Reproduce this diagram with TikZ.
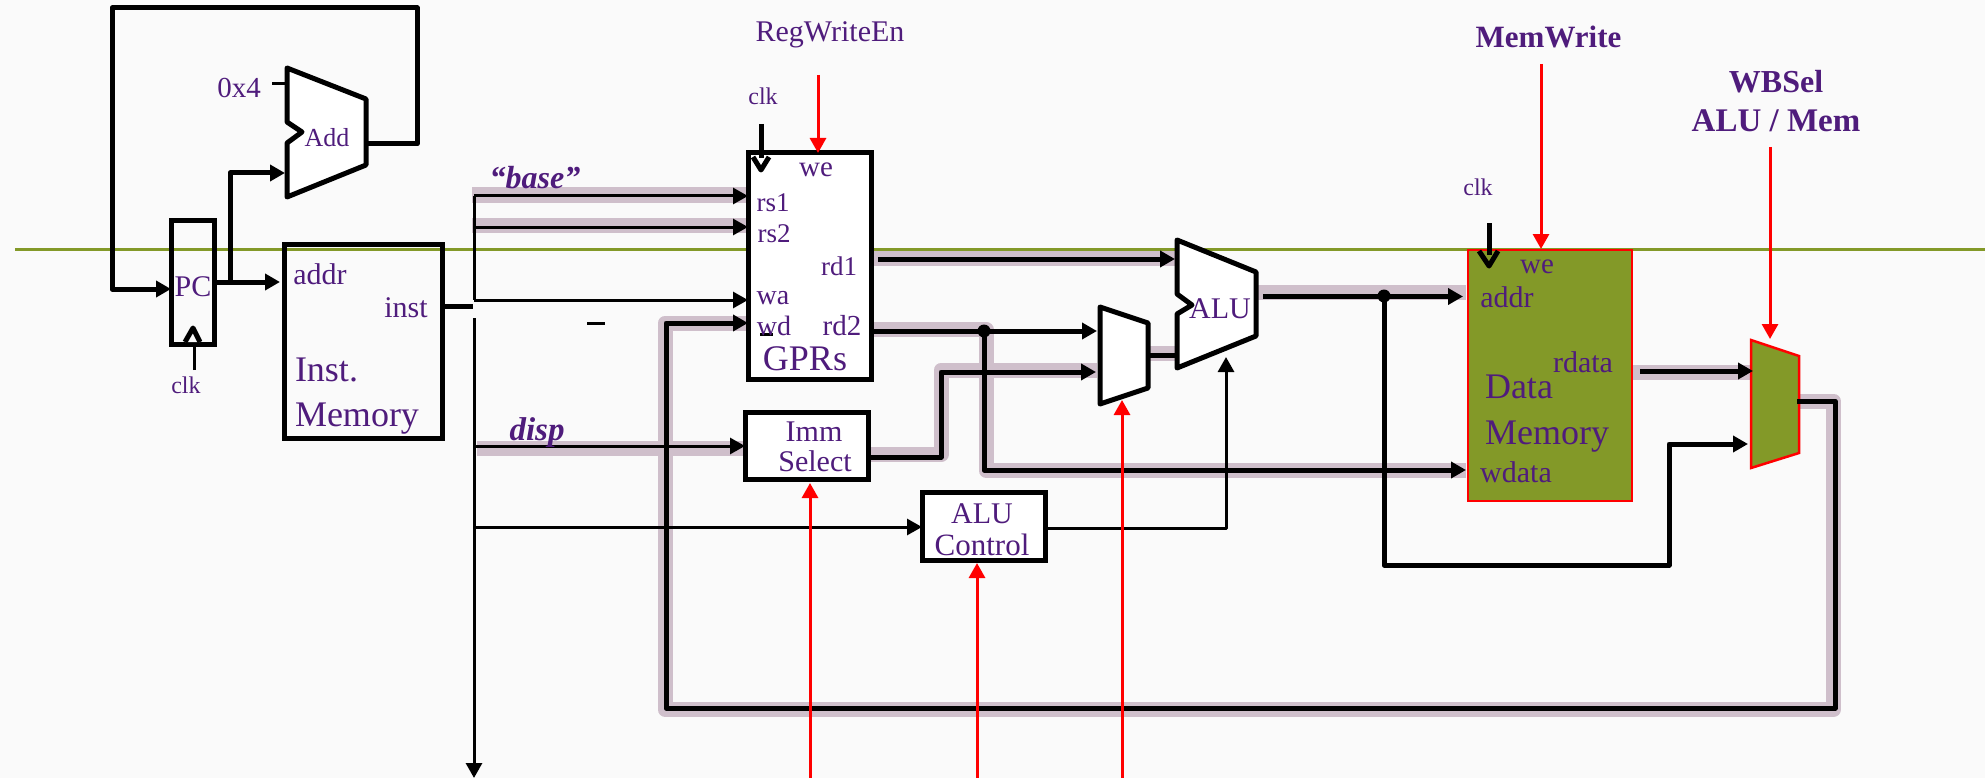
\documentclass[tikz,border=0pt]{standalone}
\usepackage{fontspec}
\setmainfont{Liberation Serif}
\usetikzlibrary{arrows.meta,calc}
\definecolor{inkp}{HTML}{4F1C7C}
\definecolor{olivef}{HTML}{839928}
\definecolor{bandc}{HTML}{CFBFCB}
\definecolor{paper}{HTML}{FAFAFA}
\tikzset{
  x=1pt,y=-1pt,
  lbl/.style={text=inkp,inner sep=0pt,outer sep=0pt,anchor=center,align=center},
  fs/.style={font=\fontsize{#1}{#1}\selectfont},
  fb/.style={font=\fontsize{#1}{#1}\selectfont\bfseries},
  fi/.style={font=\fontsize{#1}{#1}\selectfont\bfseries\itshape},
  boxw/.style={draw=black,line width=5pt,fill=white,outer sep=0pt,inner sep=0pt,rectangle},
  boxo/.style={draw=black,line width=5pt,outer sep=0pt,inner sep=0pt,rectangle},
  band/.style={draw=bandc,line width=15pt,line join=round},
  thickw/.style={draw=black,line width=5pt,line join=round},
  thinw/.style={draw=black,line width=3pt,line join=round},
  redw/.style={draw=red,line width=3pt},
  tipk/.style={-{Triangle[length=15pt,width=16pt]}},
  tipr/.style={-{Triangle[length=15pt,width=16pt,color=red]}},
  unitshape/.style={draw=black,line width=5pt,fill=white,line join=round},
  olive/.style={draw=red,line width=2.5pt,fill=olivef},
}
\begin{document}
\begin{tikzpicture}
\useasboundingbox (0,0) rectangle (1985,778);
\fill[paper] (0,0) rectangle (1985,778);
% rail
\coordinate (railL) at (15,249.5);
\coordinate (railR) at (1985,249.5);
\draw[olivef,line width=3pt] (railL) -- (railR);

% ports and junctions
\coordinate (busTop) at (474,196);
\coordinate (busBase2) at (474,227);
\coordinate (busWa) at (474,300);
\coordinate (busLow) at (474,318);
\coordinate (busDisp) at (474,446);
\coordinate (busCtl) at (474,527);
\coordinate (busEnd) at (474,778);
\coordinate (dotRd2) at (984,331);
\coordinate (dotAlu) at (1384,296);
\coordinate (fbTop) at (1835,401);
\coordinate (fbBR) at (1835,708);
\coordinate (fbBL) at (666,708);
\coordinate (fbWd) at (666,323);
% shapes' coordinates
\coordinate (addOut) at (366,144);
\coordinate (addIn) at (285,173);
\coordinate (aluA) at (1175,259);
\coordinate (aluB) at (1177,355);
\coordinate (aluS) at (1226,357);
\coordinate (aluOut) at (1263,296.5);
\coordinate (m1A) at (1097,331);
\coordinate (m1B) at (1096,372);
\coordinate (m1Out) at (1148,355);
\coordinate (m1S) at (1122,400);
\coordinate (m2A) at (1753,371);
\coordinate (m2B) at (1748,444);
\coordinate (m2Out) at (1797,401);
\coordinate (m2S) at (1770,339);

% bands
\draw[band] (472,195) -- (746,195);
\draw[band] (472,225.5) -- (746,225.5);
\draw[band] (477,448) -- (743,448);
\draw[band] (873,258.5) -- (1175,258.5);
\draw[band] (1258,292.5) -- (1466,292.5);
\draw[band] (873,329.5) -- (986,329.5) -- (986,470.5) -- (1466,470.5);
\draw[band] (870,454.5) -- (941,454.5) -- (941,370) -- (1097,370);
\draw[band] (1148,353.5) -- (1177,353.5);
\draw[band] (1632,372.5) -- (1753,372.5);
\draw[band] (1797,401) -- (1833.5,401) -- (1833.5,709.5) -- (665,709.5) -- (665,323) -- (746,323);

% boxes
\node[boxo,minimum width=43pt,minimum height=124pt] (pc) at (192.5,282) {};
\node[boxo,minimum width=158pt,minimum height=194pt] (imem) at (363,341) {};
\node[boxw,minimum width=123pt,minimum height=226pt] (gpr) at (809.5,266) {};
\node[boxw,minimum width=123pt,minimum height=67pt] (imm) at (806.5,445.5) {};
\node[boxw,minimum width=123pt,minimum height=68pt] (aluc) at (983.5,526) {};
\node[draw=red,line width=2.5pt,fill=olivef,rectangle,outer sep=0pt,inner sep=0pt,minimum width=164pt,minimum height=251pt] (dmem) at (1550,375.5) {};

% trapezoids
\draw[unitshape] (287,68) -- (366,99) -- (366,165) -- (287,197) -- (287,143) -- (302,132) -- (287,122) -- cycle;
\draw[unitshape] (1177,240) -- (1256,272) -- (1256,336) -- (1177,368) -- (1177,314) -- (1192,305) -- (1177,294) -- cycle;
\draw[unitshape] (1100,307) -- (1148,323) -- (1148,388) -- (1100,404) -- cycle;
\draw[olive] (1751,340) -- (1799,356) -- (1799,453) -- (1751,468) -- cycle;

% PC / fetch wires
\coordinate (pcClkEnd) at (194,370);
\draw[thickw,tipk] (addOut) -- (417,144) -- (417,8) -- (112,8) -- (112,289) -- (pc.west |- 0,289);
\draw[thickw,tipk] (pc.east |- 0,282) -- (280,282);
\draw[thickw,tipk] (230,282) -- (230,173) -- (addIn);
\draw[thinw] (272,84) -- (287,84);
\draw[thinw] (pcClkEnd) -- (194,335);
\draw[draw=black,line width=5pt,fill=paper,line join=round] (185,342) -- (193,328) -- (200,342);
% instruction bus
\draw[thickw] (imem.east |- 0,306.5) -- (473,306.5);
\draw[thinw] (busTop) -- (busWa);
\draw[thinw,tipk] (busLow) -- (busEnd);
\draw[thinw,tipk] (busTop) -- (busTop -| gpr.west);
\draw[thinw,tipk] (busBase2) -- (busBase2 -| gpr.west);
\draw[thinw,tipk] (busWa) -- (busWa -| gpr.west);
\draw[thinw,tipk] (busDisp) -- (busDisp -| imm.west);
\draw[thinw,tipk] (busCtl) -- (busCtl -| aluc.west);
% feedback
\draw[thickw,tipk] (m2Out) -- (fbTop) -- (fbBR) -- (fbBL) -- (fbWd) -- (fbWd -| gpr.west);
% register file outputs
\draw[thickw,tipk] (878,259) -- (aluA);
\draw[thickw] (gpr.east |- dotRd2) -- (dotRd2);
\draw[thickw,tipk] (dotRd2) -- (m1A);
\draw[thickw,tipk] (dotRd2) -- (984,470) -- (1466,470);
\fill[black] (dotRd2) circle (6.5);
\draw[thickw,tipk] (imm.east |- 0,457) -- (941,457) -- (941,372) -- (m1B);
\draw[thickw] (m1Out) -- (aluB);
\draw[thinw,tipk] (aluc.east |- 0,528) -- (1226,528) -- (aluS);
\draw[thickw,tipk] (aluOut) -- (1463,296.5);
\draw[thickw,tipk] (dotAlu) -- (1384,565) -- (1669,565) -- (1669,444) -- (m2B);
\fill[black] (dotAlu) circle (6.5);
\draw[thickw,tipk] (1640,371) -- (m2A);
% clocks
\draw[line width=5pt] (761,124) -- (761,158);
\draw[line width=5pt,line join=round] (753,157) -- (761,170) -- (769,157);
\draw[line width=5pt] (1489,223) -- (1489,255);
\draw[line width=5pt,line join=round] (1479,251) -- (1489,266) -- (1498,251);
% stray marks
\draw[thinw] (587,323) -- (605,323);
\draw[thinw] (760,334) -- (773,334);
% control
\coordinate (cRegW) at (818,75);
\coordinate (cMemW) at (1541,64);
\coordinate (cWB) at (1770,147);
\coordinate (cImm) at (810,778);
\coordinate (cAlu) at (977,778);
\coordinate (cMux) at (1122,778);
\draw[redw,tipr] (cRegW) -- (818,153);
\draw[redw,tipr] (cMemW) -- (1541,249);
\draw[redw,tipr] (cWB) -- (m2S);
\draw[redw,tipr] (cImm) -- (810,483);
\draw[redw,tipr] (cAlu) -- (977,563);
\draw[redw,tipr] (cMux) -- (m1S);

% labels
\node[lbl,fs=29] (t0x4) at (239,88) {0x4};
\node[lbl,fs=26] (tadd) at (327,138) {Add};
\node[lbl,fs=30] (tpc) at (193,287) {PC};
\node[lbl,fs=24] (tclka) at (186,385) {clk};
\node[lbl,fs=30] (taddr) at (320,274) {addr};
\node[lbl,fs=30] (tinst) at (406,308) {inst};
\node[lbl,fs=36,anchor=west] (tinst2) at (295,370) {Inst.};
\node[lbl,fs=36,anchor=west] (tmem) at (295,419) {Memory};
\node[lbl,fs=30] (tregw) at (830,35) {RegWriteEn};
\node[lbl,fs=24] (tclkb) at (763,96) {clk};
\node[lbl,fs=29] (twe) at (816,170) {we};
\node[lbl,fs=27] (trs1) at (773,203) {rs1};
\node[lbl,fs=27] (trs2) at (774,234) {rs2};
\node[lbl,fs=27] (trd1) at (839,266) {rd1};
\node[lbl,fs=28] (twa) at (773,298) {wa};
\node[lbl,fs=28] (twd) at (774,326) {wd};
\node[lbl,fs=29] (trd2) at (842,326) {rd2};
\node[lbl,fs=36] (tgprs) at (805,359) {GPRs};
\node[lbl,fi=32] (tbase) at (535,178) {“base”};
\node[lbl,fi=33] (tdisp) at (537,433) {disp};
\node[lbl,fs=30] (timm1) at (814,432) {Imm};
\node[lbl,fs=30] (timm2) at (815,461) {Select};
\node[lbl,fs=30] (tac1) at (982,514) {ALU};
\node[lbl,fs=31] (tac2) at (982,545) {Control};
\node[lbl,fs=30] (talu) at (1220,309) {ALU};
\node[lbl,fb=31] (tmw) at (1548.5,37) {MemWrite};
\node[lbl,fb=32] (twb1) at (1776,82) {WBSel};
\node[lbl,fb=33] (twb2) at (1776,121) {ALU / Mem};
\node[lbl,fs=24] (tclkc) at (1478,187) {clk};
\node[lbl,fs=29] (twe2) at (1537,267) {we};
\node[lbl,fs=30] (taddr2) at (1507,297) {addr};
\node[lbl,fs=30] (trdata) at (1583,362) {rdata};
\node[lbl,fs=36,anchor=west] (tdata) at (1485,387) {Data};
\node[lbl,fs=36,anchor=west] (tmem2) at (1485,437) {Memory};
\node[lbl,fs=30] (twdata) at (1516,472) {wdata};
\end{tikzpicture}
\end{document}
